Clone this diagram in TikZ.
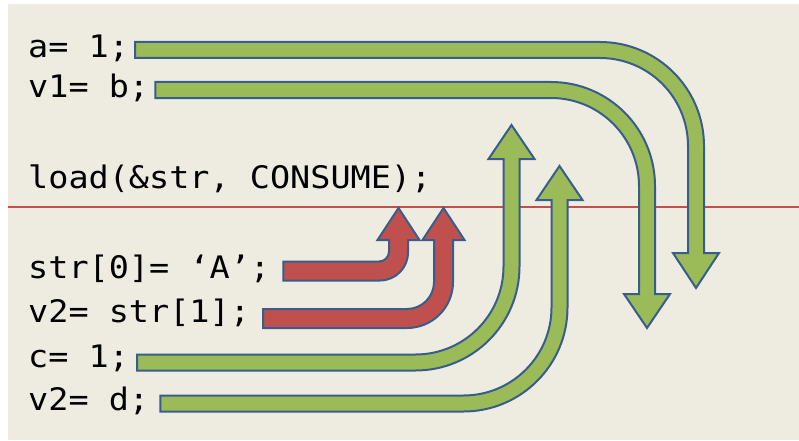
\documentclass[tikz,border=0pt]{standalone}
\usepackage{fontspec}
\newfontfamily\codefont{DejaVu Sans Mono}[FakeStretch=1.08]
\usetikzlibrary{calc}
\definecolor{paper}{HTML}{EEECE1}
\definecolor{arrowgreen}{HTML}{9BBB59}
\definecolor{arrowred}{HTML}{C0504D}
\definecolor{outline}{HTML}{385D8A}
\tikzstyle{code}=[anchor=base west,inner sep=0pt,font=\codefont\fontsize{31}{37}\selectfont]
\tikzstyle{blockarrow}=[draw=outline,line width=2pt,line join=miter]
\tikzstyle{greenarrow}=[blockarrow,fill=arrowgreen]
\tikzstyle{redarrow}=[blockarrow,fill=arrowred]
\tikzstyle{sepline}=[draw=arrowred,line width=1.5pt]

\begin{document}
\begin{tikzpicture}[x=1pt,y=1pt]
    \useasboundingbox (0,0) rectangle (799,440);
    \fill[paper] (8,0) rectangle (799,436);

    % First we write the code lines
    \foreach \name/\ypos/\txt in {a/382/{a= 1;}, v1/342/{v1= b;}, load/251.5/{load(\&str, CONSUME);},
                                   str0/162/{str[0]= ‘A’;}, v2s/118/{v2= str[1];}, c/73/{c= 1;}, v2d/30/{v2= d;}}
        \node[code] (\name) at (28,\ypos) {\txt};

    % the barrier line
    \draw[sepline] (8,233) -- (799,233);

    % Green arrows: line / gap / bar y / shaft x / head base / tip / turn / outer r / inner r
    \foreach \name/\gap/\yc/\xc/\yb/\yt/\s/\ro/\ri in {a/6/390/696/187/152/1/104/88, v1/6/350/647/146/112/1/104/88,
                                                     c/8/77.5/511.5/281/315/-1/104/88, v2d/11/36.5/559.5/240/274/-1/104/88}
        \draw[greenarrow] let \p1=(\name.base east) in
            ({\x1+\gap pt},{\yc+8*(\s)}) [rounded corners=\ro pt] -- ({\xc+8},{\yc+8*(\s)}) [sharp corners]
            -- ({\xc+8},\yb) -- ({\xc+23},\yb) -- (\xc,\yt) -- ({\xc-23},\yb) -- ({\xc-8},\yb)
            [rounded corners=\ri pt] -- ({\xc-8},{\yc-8*(\s)}) [sharp corners] -- ({\x1+\gap pt},{\yc-8*(\s)}) -- cycle;

    % Red arrows
    \foreach \name/\gap/\yc/\xc/\yb/\yt/\s/\ro/\ri in {str0/13/169/398.5/200/232/-1/28/10, v2s/13/121.5/443.5/200/232/-1/46/27}
        \draw[redarrow] let \p1=(\name.base east) in
            ({\x1+\gap pt},{\yc+9.5*(\s)}) [rounded corners=\ro pt] -- ({\xc+9.5},{\yc+9.5*(\s)}) [sharp corners]
            -- ({\xc+9.5},\yb) -- ({\xc+21},\yb) -- (\xc,\yt) -- ({\xc-21},\yb) -- ({\xc-9.5},\yb)
            [rounded corners=\ri pt] -- ({\xc-9.5},{\yc-9.5*(\s)}) [sharp corners] -- ({\x1+\gap pt},{\yc-9.5*(\s)}) -- cycle;

\end{tikzpicture}
\end{document}
